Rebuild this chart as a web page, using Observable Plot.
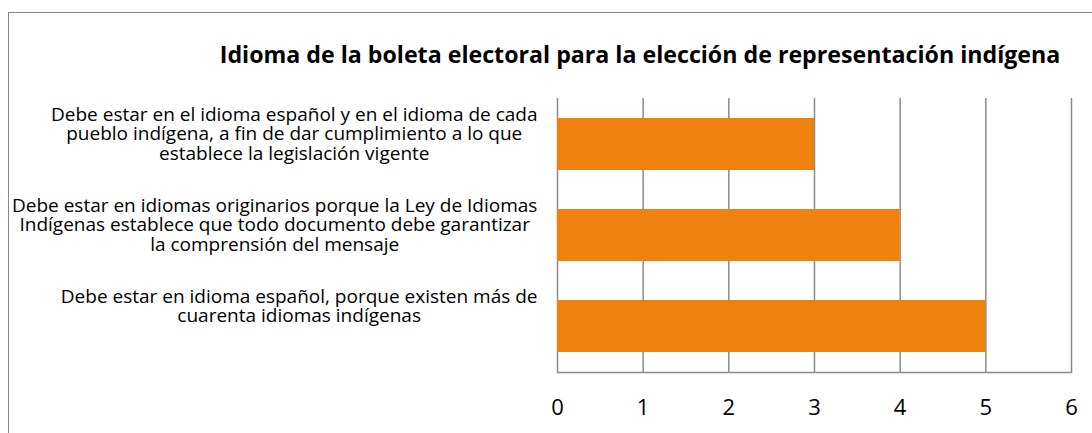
<!DOCTYPE html>
<html><head><meta charset="utf-8">
<script src="https://cdn.jsdelivr.net/npm/d3@7"></script>
<script src="https://cdn.jsdelivr.net/npm/@observablehq/plot@0.6"></script>
<style>
html,body{margin:0;padding:0;background:#fff;}
body{width:1092px;height:433px;position:relative;overflow:hidden;font-family:"Open Sans",Lato,sans-serif;}
#frame{position:absolute;left:8px;top:12px;width:1200px;height:600px;border:1.5px solid #878787;box-sizing:border-box;}
#title{position:absolute;left:188px;top:40px;width:904px;text-align:center;font-weight:bold;font-size:23.2px;line-height:28px;color:#000;white-space:nowrap;}
#chart{position:absolute;left:0;top:0;}
</style>
</head><body>
<div id="frame"></div>
<div id="title">Idioma de la boleta electoral para la elección de representación indígena</div>
<div id="chart"></div>
<script>
const categories = [
  "Debe estar en el idioma español y en el idioma de cada\npueblo indígena, a fin de dar cumplimiento a lo que\nestablece la legislación vigente",
  "Debe estar en idiomas originarios porque la Ley de Idiomas\nIndígenas establece que todo documento debe garantizar\nla comprensión del mensaje",
  "Debe estar en idioma español, porque existen más de\ncuarenta idiomas indígenas"
];
const values = [3, 4, 5];
const xTicks = [0, 1, 2, 3, 4, 5, 6];

const data = categories.map((c, i) => ({category: c, value: values[i]}));

const chart = Plot.plot({
  width: 1092,
  height: 433,
  marginLeft: 557,
  marginRight: 21,
  marginTop: 98,
  marginBottom: 61,
  style: {fontFamily: "'Open Sans', Lato, sans-serif", background: "transparent", color: "#000", overflow: "visible"},
  x: {domain: [0, 6], label: null},
  y: {domain: categories, paddingInner: 0.43, paddingOuter: 0.215, label: null},
  marks: [
    Plot.gridX(xTicks, {stroke: "#8a8a8a", strokeOpacity: 1, strokeWidth: 1.5}),
    Plot.barX(data, {x: "value", y: "category", fill: "#EF810E"}),
    Plot.frame({anchor: "bottom", stroke: "#8a8a8a", strokeWidth: 1.5}),
    Plot.axisX(xTicks, {tickSize: 0, tickPadding: 27, fontSize: 22, label: null, fill: "#000"}),
    Plot.axisY({tickSize: 0, tickPadding: 20, fontSize: 19, lineAnchor: "top", lineHeight: 1.04, dy: -38, label: null, fill: "#000", textOverflow: null, lineWidth: Infinity})
  ]
});
document.getElementById("chart").appendChild(chart);

// Center each multi-line label block on its own width (right edge kept at the axis padding)
d3.select(chart).selectAll('g[aria-label="y-axis tick label"] text').each(function() {
  const w = this.getBBox().width;
  const t = this.getAttribute("transform") || "";
  this.setAttribute("text-anchor", "middle");
  this.setAttribute("transform", t + ` translate(${-w / 2},0)`);
});
</script>
</body></html>
